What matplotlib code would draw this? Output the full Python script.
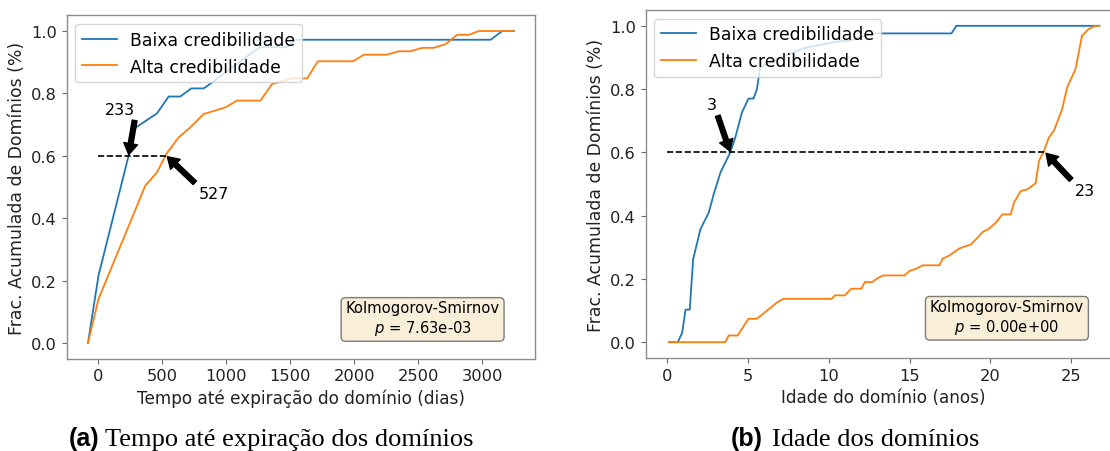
import matplotlib
matplotlib.use("Agg")
import matplotlib.pyplot as plt

# (a) tempo ate expiracao (dias)
exp_baixa_x = [-80, 2, 237, 276, 459, 550, 641, 727, 824, 928, 1100, 1200, 1268, 1475, 1540, 3065, 3156, 3245]
exp_baixa_y = [0, 0.216, 0.6, 0.686, 0.736, 0.79, 0.79, 0.816, 0.816, 0.846, 0.9, 0.93, 0.948, 0.948, 0.972, 0.972, 1.0, 1.0]
exp_alta_x = [-80, 2, 250, 367, 459, 532, 628, 719, 824, 993, 1084, 1267, 1358, 1514, 1632, 1715, 1991, 2075,
              2252, 2348, 2439, 2531, 2622, 2713, 2804, 2895, 2973, 3245]
exp_alta_y = [0, 0.141, 0.387, 0.504, 0.547, 0.606, 0.659, 0.691, 0.734, 0.755, 0.777, 0.777, 0.83, 0.848, 0.848,
              0.903, 0.903, 0.924, 0.924, 0.935, 0.935, 0.946, 0.946, 0.958, 0.988, 0.988, 1.0, 1.0]

# (b) idade do dominio (anos)
idade_baixa_x = [0.1, 0.65, 0.92, 1.13, 1.39, 1.6, 2.05, 2.57, 2.87, 3.29, 3.9, 4.21, 4.62, 5.03, 5.34, 5.55, 5.75,
                 6.3, 7.5, 8.5, 10.0, 10.9, 11.3, 12.0, 12.9, 17.6, 17.9, 26.76]
idade_baixa_y = [0, 0, 0.03, 0.103, 0.103, 0.262, 0.357, 0.41, 0.467, 0.536, 0.6, 0.647, 0.726, 0.77, 0.77, 0.8, 0.868,
                 0.884, 0.91, 0.93, 0.945, 0.953, 0.953, 0.965, 0.976, 0.976, 1.0, 1.0]
idade_alta_x = [0.1, 3.6, 3.8, 4.35, 5.03, 5.55, 6.06, 6.78, 7.19, 10.17, 10.38, 10.99, 11.4, 12.02, 12.23, 12.7,
                12.95, 13.36, 14.69, 15.0, 15.41, 15.82, 16.85, 17.05, 17.47, 18.08, 18.39, 18.8, 19.21, 19.52,
                19.93, 20.35, 20.75, 21.27, 21.47, 21.89, 22.29, 22.81, 23.02, 23.32, 23.63, 23.94, 24.45, 24.76,
                25.28, 25.68, 26.1, 26.51, 26.76]
idade_alta_y = [0, 0, 0.021, 0.021, 0.074, 0.074, 0.095, 0.125, 0.137, 0.137, 0.148, 0.148, 0.169, 0.169, 0.19, 0.19,
                0.2, 0.211, 0.211, 0.225, 0.232, 0.243, 0.243, 0.264, 0.274, 0.296, 0.302, 0.309, 0.33, 0.348,
                0.359, 0.378, 0.404, 0.404, 0.441, 0.478, 0.483, 0.502, 0.573, 0.604, 0.647, 0.668, 0.736, 0.805,
                0.863, 0.968, 0.99, 1.0, 1.0]

# cruzamentos com 0.6 e rotulos
exp_cross = [237, 532]
exp_labels = ["233", "527"]
idade_cross = [3.9, 23.4]
idade_labels = ["3", "23"]

plt.rcParams['font.family'] = 'DejaVu Sans'
W, H = 1110, 452
fig = plt.figure(figsize=(W / 100, H / 100), dpi=100)

ax1 = fig.add_axes([66.7 / W, 1 - 359.6 / H, 468.3 / W, 343.2 / H])
ax2 = fig.add_axes([645.7 / W, 1 - 359 / H, 475.3 / W, 348 / H])

box = dict(boxstyle='round', facecolor='wheat', alpha=0.5)
arrow = dict(facecolor='black', edgecolor='black', width=3.5, headwidth=10, headlength=8, shrink=0.03)


def style(ax, xlabel):
    ax.set_xlabel(xlabel, fontsize=12.2, color='#222222')
    ax.set_ylabel('Frac. Acumulada de Domínios (%)', fontsize=12.4, color='#222222')
    ax.tick_params(labelsize=11.7, colors='#666666', labelcolor='#222222')
    for s in ax.spines.values():
        s.set_color('#8c8c8c')
        s.set_linewidth(1.0)
    ax.legend(loc='upper left', fontsize=12.4)


#(a)
ax1.plot(exp_baixa_x, exp_baixa_y, color='#1f77b4', lw=1.3, label='Baixa credibilidade')
ax1.plot(exp_alta_x, exp_alta_y, color='#ff7f0e', lw=1.3, label='Alta credibilidade')
ax1.hlines(0.6, 0, exp_cross[1], colors='black', linestyles='dashed', lw=1.2)
ax1.annotate(exp_labels[0], xy=(exp_cross[0], 0.6), xytext=(172, 0.75), ha='center', va='center',
             fontsize=11.5, arrowprops=arrow)
ax1.annotate(exp_labels[1], xy=(exp_cross[1], 0.6), xytext=(902, 0.478), ha='center', va='center',
             fontsize=11.5, arrowprops=arrow)
ax1.text(0.76, 0.117, 'Kolmogorov-Smirnov\n$p$ = 7.63e-03', transform=ax1.transAxes, ha='center',
         va='center', multialignment='center', fontsize=10.6, bbox=box)
style(ax1, 'Tempo até expiração do domínio (dias)')

#(b)
ax2.plot(idade_baixa_x, idade_baixa_y, color='#1f77b4', lw=1.3, label='Baixa credibilidade')
ax2.plot(idade_alta_x, idade_alta_y, color='#ff7f0e', lw=1.3, label='Alta credibilidade')
ax2.hlines(0.6, 0, idade_cross[1], colors='black', linestyles='dashed', lw=1.2)
ax2.annotate(idade_labels[0], xy=(idade_cross[0], 0.6), xytext=(2.73, 0.752), ha='center', va='center',
             fontsize=11.5, arrowprops=arrow)
ax2.annotate(idade_labels[1], xy=(idade_cross[1], 0.6), xytext=(25.85, 0.478), ha='center', va='center',
             fontsize=11.5, arrowprops=arrow)
ax2.text(0.76, 0.117, 'Kolmogorov-Smirnov\n$p$ = 0.00e+00', transform=ax2.transAxes, ha='center',
         va='center', multialignment='center', fontsize=10.6, bbox=box)
style(ax2, 'Idade do domínio (anos)')

#legendas das subfiguras
yb = 6 / H
fig.text(99 / W, yb, '(a)', ha='right', va='baseline', fontsize=18, fontweight='bold', family='Liberation Sans')
fig.text(105 / W, yb, 'Tempo até expiração dos domínios', ha='left', va='baseline', fontsize=19,
         family='Liberation Serif')
fig.text(763 / W, yb, '(b)', ha='right', va='baseline', fontsize=18, fontweight='bold', family='Liberation Sans')
fig.text(772 / W, yb, 'Idade dos domínios', ha='left', va='baseline', fontsize=19, family='Liberation Serif')

fig.savefig('out.png', dpi=100)
